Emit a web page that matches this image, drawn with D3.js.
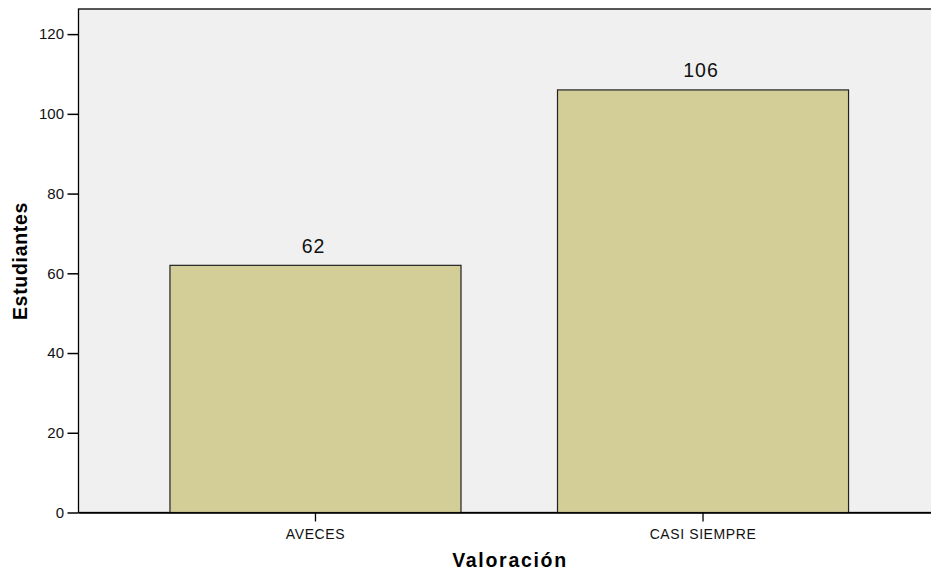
<!DOCTYPE html>
<html>
<head>
<meta charset="utf-8">
<script src="https://cdn.jsdelivr.net/npm/d3@7"></script>
<style>
  body { margin: 0; background: #fff; }
  svg { display: block; font-family: Arial, "Liberation Sans", sans-serif; }
</style>
</head>
<body>
<script>
const categories = ["AVECES", "CASI SIEMPRE"];
const values = [62, 106];
const yTicks = [0, 20, 40, 60, 80, 100, 120];

const w = 931;
const h = 571;
const plotLeft = 78.5;
const plotRight = 940;
const plotTop = 9;
const plotBottom = 512.5;

const svg = d3.select("body")
  .append("svg")
  .attr("width", w)
  .attr("height", h);

const xScale = d3.scaleBand()
  .domain(categories)
  .range([plotLeft, plotRight])
  .paddingInner(0.249)
  .paddingOuter(0.236);

const yScale = d3.scaleLinear()
  .domain([0, 126.3])
  .range([plotBottom, plotTop]);

// plot background
svg.append("rect")
  .attr("x", plotLeft)
  .attr("y", plotTop)
  .attr("width", plotRight - plotLeft)
  .attr("height", plotBottom - plotTop)
  .attr("fill", "#f0f0f0")
  .attr("stroke", "#000")
  .attr("stroke-width", 1.3);

svg.selectAll(".bar")
  .data(values)
  .enter()
  .append("rect")
  .attr("class", "bar")
  .attr("x", (d, i) => xScale(categories[i]))
  .attr("y", d => yScale(d))
  .attr("width", xScale.bandwidth())
  .attr("height", d => plotBottom - yScale(d))
  .attr("fill", "#d3ce98")
  .attr("stroke", "#222")
  .attr("stroke-width", 1.2);

svg.selectAll(".val")
  .data(values)
  .enter()
  .append("text")
  .attr("class", "val")
  .attr("x", (d, i) => xScale(categories[i]) + xScale.bandwidth() / 2 - 2)
  .attr("y", d => yScale(d) - 12.5)
  .attr("text-anchor", "middle")
  .attr("font-size", 19.5)
  .attr("letter-spacing", 1)
  .attr("fill", "#111")
  .text(d => d);

const yAxis = d3.axisLeft(yScale)
  .tickValues(yTicks)
  .tickSize(11)
  .tickPadding(3.5);

const gy = svg.append("g")
  .attr("transform", "translate(" + plotLeft + ",0)")
  .call(yAxis);
gy.select(".domain").remove();
gy.selectAll(".tick line").attr("stroke", "#000").attr("stroke-width", 1.5);
gy.selectAll(".tick text").attr("font-size", 15).attr("fill", "#111");

const xAxis = d3.axisBottom(xScale).tickSize(9).tickSizeOuter(0).tickPadding(7.4);
const gx = svg.append("g")
  .attr("transform", "translate(0," + plotBottom + ")")
  .call(xAxis);
gx.select(".domain").attr("stroke", "#000").attr("stroke-width", 1.5);
gx.selectAll(".tick line").attr("stroke", "#000").attr("stroke-width", 1.3);
gx.selectAll(".tick text")
  .attr("font-size", 14)
  .attr("letter-spacing", 0.6)
  .attr("fill", "#111");

svg.append("text")
  .attr("x", 510)
  .attr("y", 566.5)
  .attr("text-anchor", "middle")
  .attr("font-size", 19.5)
  .attr("letter-spacing", 1.7)
  .attr("font-weight", "bold")
  .text("Valoración");

svg.append("text")
  .attr("transform", "translate(27,261) rotate(-90)")
  .attr("text-anchor", "middle")
  .attr("font-size", 19.5)
  .attr("letter-spacing", 0.7)
  .attr("font-weight", "bold")
  .text("Estudiantes");
</script>
</body>
</html>
